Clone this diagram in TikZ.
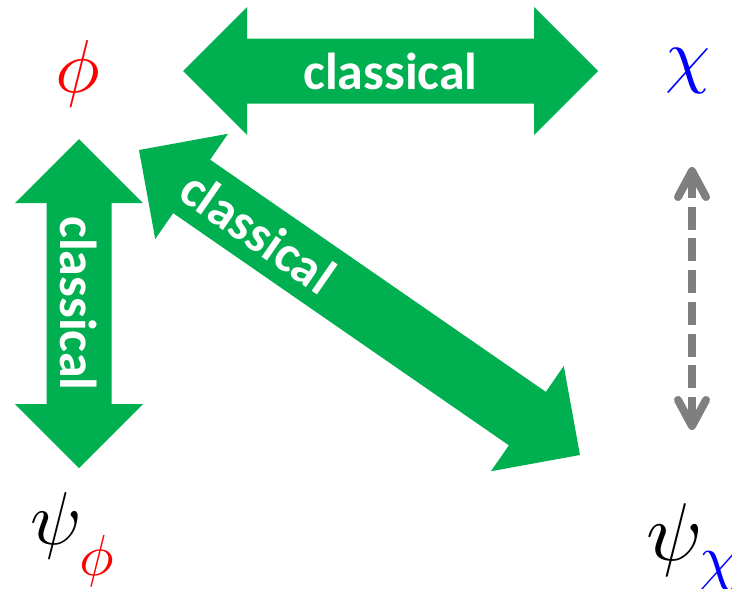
\documentclass[tikz,border=0pt]{standalone}
\usepackage{fontspec}
\DeclareFontFamily{OML}{cmm}{\skewchar\font'177}
\DeclareFontShape{OML}{cmm}{m}{it}{<->cmmi10}{}
\DeclareMathSizes{75}{75}{58}{45}
\DeclareMathSizes{82}{82}{62}{48}
\newfontfamily\labfont{Carlito}
\usetikzlibrary{calc,arrows.meta}
\definecolor{arrowgreen}{HTML}{00B050}
\definecolor{dashgray}{HTML}{7F7F7F}
\tikzset{
  lab/.style={text=white, inner sep=0pt, font=\labfont\bfseries\fontsize{52}{60}\selectfont},
  symb/.style={inner sep=0pt},
  fatfill/.style={fill=arrowgreen},
  dasharrow/.style={draw=dashgray, line width=8pt, dash pattern=on 23pt off 8.7pt,
    {Straight Barb[length=26pt, width=28pt, round]}-{Straight Barb[length=26pt, width=28pt, round]}}
}
% #1,#2: tip coordinates, #3: label position, #4: label
\newcommand\fatarrow[4]{%
  \coordinate (#1h) at ($(#1)!64pt!(#2)$);
  \coordinate (#2h) at ($(#2)!64pt!(#1)$);
  \fill[fatfill] (#1) -- ($(#1h)!64pt!90:(#2)$) -- ($(#1h)!32.5pt!90:(#2)$)
    -- ($(#2h)!32.5pt!-90:(#1)$) -- ($(#2h)!64pt!-90:(#1)$) -- (#2)
    -- ($(#2h)!64pt!90:(#1)$) -- ($(#2h)!32.5pt!90:(#1)$)
    -- ($(#1h)!32.5pt!-90:(#2)$) -- ($(#1h)!64pt!-90:(#2)$) -- cycle;
  \path (#1) -- (#2) node[lab, pos=#3, sloped] (#1lab) {#4};
}
\begin{document}
\begin{tikzpicture}[x=1pt, y=-1pt]
  \useasboundingbox (0,0) rectangle (732,589);
  \clip (0,0) rectangle (732,589);
  % symbols
  \node[symb, anchor=base, text=red, font=\fontsize{75}{90}\selectfont] (phi) at (78,92) {$\phi$};
  \node[symb, anchor=base, text=blue, font=\fontsize{72}{86}\selectfont] (chi) at (688,79) {$\chi$};
  \node[symb, anchor=base west, font=\fontsize{75}{90}\selectfont] (psiphi) at (30,544) {$\psi_{\color{red}\phi}$};
  \node[symb, anchor=base west, font=\fontsize{82}{98}\selectfont] (psichi) at (646,560) {$\psi_{\color{blue}\chi}$};
  % arrow tips
  \coordinate (hA) at (183,71);
  \coordinate (hB) at (598,71);
  \coordinate (vA) at (79,139);
  \coordinate (vB) at (79,468);
  \coordinate (dA) at (139,150);
  \coordinate (dB) at (580,455);
  \coordinate (gA) at (692,167);
  \coordinate (gB) at (692,430);
  \fatarrow{hA}{hB}{0.5}{classical}
  \fatarrow{vA}{vB}{0.5}{classical}
  \fatarrow{dA}{dB}{0.27}{classical}
  \draw[dasharrow] (gA) -- (gB);
\end{tikzpicture}
\end{document}
